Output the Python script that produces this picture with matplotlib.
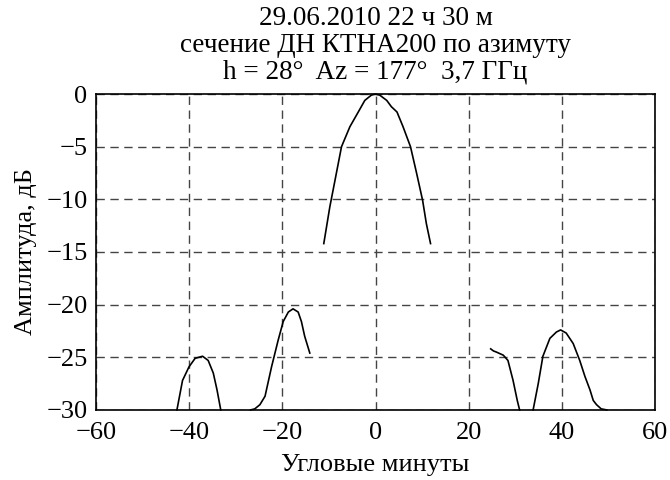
import numpy as np
import matplotlib
matplotlib.use('Agg')
import matplotlib.pyplot as plt

# main lobe
main_x = [-11.1, -9.8, -8.7, -7.3, -5.5, -3.7, -2.3, -0.9, 0.0, 0.9, 2.4, 3.4, 4.6, 5.9, 7.5, 8.8, 10.1, 10.9, 11.8]
main_y = [-14.2, -10.7, -8.2, -5.0, -3.1, -1.7, -0.6, -0.1, 0.0, -0.1, -0.6, -1.2, -1.7, -3.1, -5.0, -7.5, -10.1, -12.3, -14.2]

# left side lobes
lobe1_x = [-42.6, -41.4, -40.0, -38.7, -37.1, -35.9, -34.8, -34.0, -33.2]
lobe1_y = [-30.0, -27.2, -25.9, -25.1, -24.9, -25.3, -26.5, -28.1, -30.0]

lobe2_x = [-26.8, -25.9, -24.8, -23.7, -22.3, -20.9, -19.8, -18.7, -17.7, -16.6, -15.9, -15.2, -14.1]
lobe2_y = [-30.0, -29.9, -29.5, -28.7, -25.9, -23.4, -21.6, -20.7, -20.4, -20.7, -21.6, -23.0, -24.6]

# right side lobes
lobe3_x = [24.7, 25.3, 25.9, 27.4, 28.4, 29.5, 30.4, 30.9]
lobe3_y = [-24.2, -24.4, -24.5, -24.8, -25.3, -27.2, -29.1, -30.0]

lobe4_x = [33.8, 34.9, 35.9, 37.4, 38.8, 39.7, 40.9, 42.4, 43.8, 44.9, 46.0, 46.7, 47.4, 48.4, 49.6]
lobe4_y = [-30.0, -27.5, -24.9, -23.2, -22.6, -22.4, -22.7, -23.7, -25.3, -26.8, -28.1, -29.1, -29.5, -29.9, -30.0]

xticks = [-60, -40, -20, 0, 20, 40, 60]
yticks = [0, -5, -10, -15, -20, -25, -30]

plt.rcParams['font.family'] = ['Liberation Serif', 'DejaVu Serif']
plt.rcParams['font.size'] = 19

fig = plt.figure(figsize=(6.7, 4.8), dpi=100)
ax = fig.add_axes([0.143, 0.146, 0.835, 0.658])

for xs, ys in [(main_x, main_y), (lobe1_x, lobe1_y), (lobe2_x, lobe2_y),
               (lobe3_x, lobe3_y), (lobe4_x, lobe4_y)]:
    ax.plot(xs, ys, color='black', lw=1.2, clip_on=False)

ax.set_xlim(-60, 60)
ax.set_ylim(-30, 0)
ax.set_xticks(xticks)
ax.set_yticks(yticks)
ax.grid(True, color='#444444', linestyle=(0, (6, 4)), lw=1.0)
ax.tick_params(axis='x', length=0, pad=9)
ax.tick_params(axis='y', length=0, pad=6)
for s in ax.spines.values():
    s.set_linewidth(1.2)

ax.set_xlabel('Угловые минуты', labelpad=7)
ax.set_ylabel('Амплитуда, дБ', labelpad=7)
ax.set_title('29.06.2010 22 ч 30 м\nсечение ДН КТНА200 по азимуту\nh = 28°  Az = 177°  3,7 ГГц',
             fontsize=19.5, linespacing=1.1, pad=11)

fig.savefig('out.png', dpi=100)
